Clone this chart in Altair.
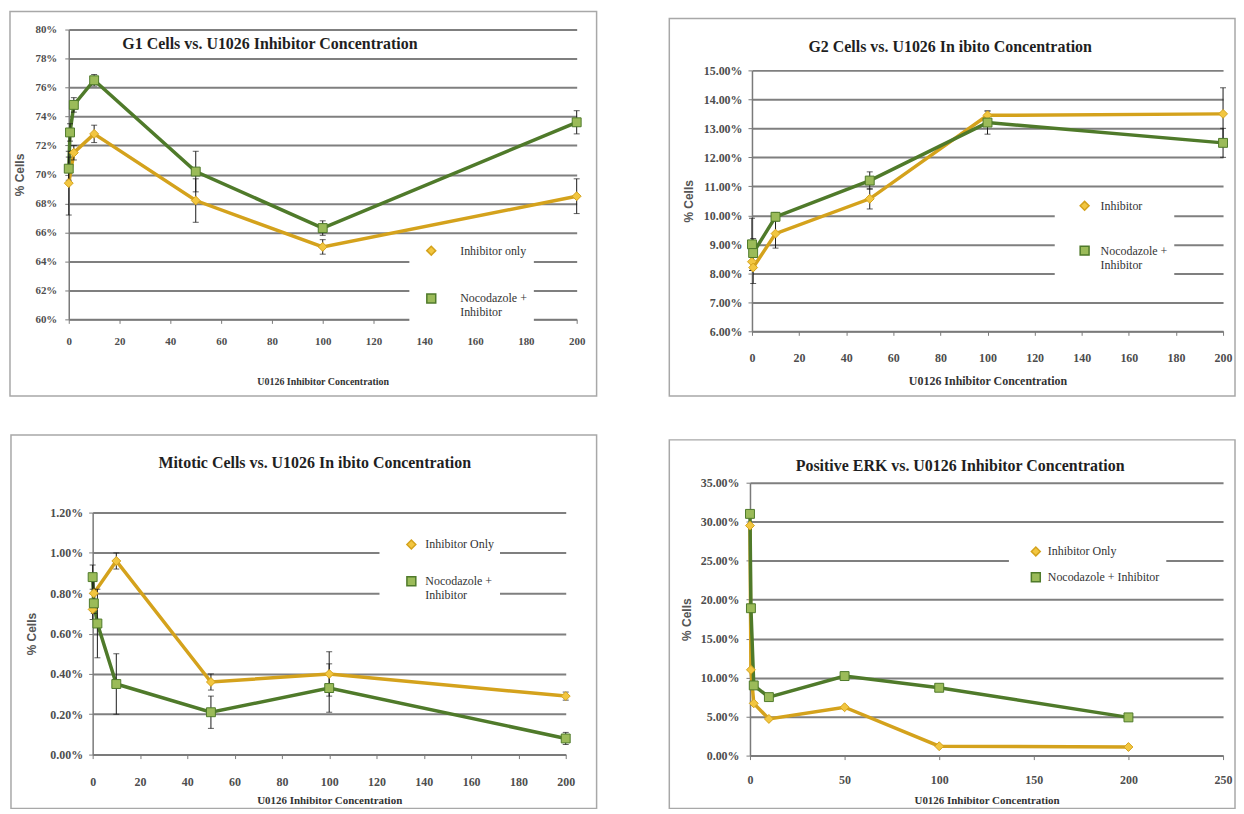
import altair as alt
import pandas as pd

SERIF = "Liberation Serif"
SANS = "Liberation Sans"
OR_LINE = "#D4A21C"
OR_FILL = "#F2C640"
GR_LINE = "#4F7A2A"
GR_FILL = "#9BBB59"
GRID = "#7f7f7f"
FRAME = "#A8A8A8"
LABEL = "#4d4d4d"

# ---------------- G1 cells ----------------
g1_title = "G1 Cells vs. U1026 Inhibitor Concentration"
g1_names = ["Inhibitor only", "Nocodazole + Inhibitor"]
g1_inh_x = [0, 2, 10, 50, 100, 200]
g1_inh_y = [69.4, 71.5, 72.8, 68.2, 65.0, 68.5]
g1_inh_err = [2.2, 0.5, 0.6, 1.5, 0.5, 1.2]
g1_noc_x = [0, 0.5, 2, 10, 50, 100, 200]
g1_noc_y = [70.4, 72.9, 74.8, 76.5, 70.2, 66.3, 73.6]
g1_noc_err = [0.8, 0.6, 0.5, 0.4, 1.4, 0.5, 0.8]
g1_xticks = [0, 20, 40, 60, 80, 100, 120, 140, 160, 180, 200]
g1_yticks = [60, 62, 64, 66, 68, 70, 72, 74, 76, 78, 80]

# ---------------- G2 cells ----------------
g2_title = "G2 Cells vs. U1026 In  ibito  Concentration"
g2_names = ["Inhibitor", "Nocodazole + Inhibitor"]
g2_inh_x = [0, 0.5, 10, 50, 100, 200]
g2_inh_y = [8.4, 8.2, 9.37, 10.57, 13.45, 13.5]
g2_inh_err = [0.3, 0.55, 0.5, 0.35, 0.15, 0.9]
g2_noc_x = [0, 0.5, 10, 50, 100, 200]
g2_noc_y = [9.0, 8.7, 9.95, 11.2, 13.2, 12.5]
g2_noc_err = [0.9, 0.5, 0.15, 0.3, 0.4, 0.5]
g2_xticks = [0, 20, 40, 60, 80, 100, 120, 140, 160, 180, 200]
g2_yticks = [6, 7, 8, 9, 10, 11, 12, 13, 14, 15]

# ---------------- Mitotic cells ----------------
mit_title = "Mitotic Cells vs. U1026 In  ibito  Concentration"
mit_names = ["Inhibitor Only", "Nocodazole + Inhibitor"]
mit_inh_x = [0, 0.5, 10, 50, 100, 200]
mit_inh_y = [0.72, 0.80, 0.96, 0.36, 0.40, 0.29]
mit_inh_err = [0.05, 0.08, 0.04, 0.04, 0.11, 0.02]
mit_noc_x = [0, 0.5, 2, 10, 50, 100, 200]
mit_noc_y = [0.88, 0.75, 0.65, 0.35, 0.21, 0.33, 0.08]
mit_noc_err = [0.06, 0.05, 0.17, 0.15, 0.08, 0.12, 0.03]
mit_xticks = [0, 20, 40, 60, 80, 100, 120, 140, 160, 180, 200]
mit_yticks = [0, 0.2, 0.4, 0.6, 0.8, 1.0, 1.2]

# ---------------- Positive ERK ----------------
erk_title = "Positive ERK vs. U0126 Inhibitor Concentration"
erk_names = ["Inhibitor Only", "Nocodazole + Inhibitor"]
erk_inh_x = [0, 0.5, 2, 10, 50, 100, 200]
erk_inh_y = [29.5, 11.0, 6.7, 4.7, 6.2, 1.2, 1.1]
erk_inh_err = [0, 0, 0, 0, 0, 0, 0]
erk_noc_x = [0, 0.5, 2, 10, 50, 100, 200]
erk_noc_y = [31.0, 18.9, 9.0, 7.5, 10.2, 8.7, 4.9]
erk_noc_err = [0, 0, 0, 0, 0, 0, 0]
erk_xticks = [0, 50, 100, 150, 200, 250]
erk_yticks = [0, 5, 10, 15, 20, 25, 30, 35]

X_TITLE = "U0126 Inhibitor Concentration"
Y_TITLE = "% Cells"

TWO_LINE = "datum.label == 'Nocodazole + Inhibitor' ? ['Nocodazole +', 'Inhibitor'] : datum.label"

PANELS = {
    "g1": dict(title=g1_title, tx=202, ty=15, names=g1_names,
               series=[(g1_inh_x, g1_inh_y, g1_inh_err), (g1_noc_x, g1_noc_y, g1_noc_err)],
               xdom=[0, 200], xticks=g1_xticks, ydom=[60, 80], yticks=g1_yticks,
               yfmt="format(datum.value, '.0f') + '%'", W=510, H=291,
               frame=(-59, 530, -18, 368), lx=342, ly=210, symoff=10, laboff=23, rowpad=32,
               twoline=True, xlp=12, xtp=30, xts=10, ylp=8, ytp=8, yls=11),
    "g2": dict(title=g2_title, tx=199, ty=-23, names=g2_names,
               series=[(g2_inh_x, g2_inh_y, g2_inh_err), (g2_noc_x, g2_noc_y, g2_noc_err)],
               xdom=[0, 200], xticks=g2_xticks, ydom=[6, 15], yticks=g2_yticks,
               yfmt="format(datum.value, '.2f') + '%'", W=473, H=262,
               frame=(-83, 485, -52, 327), lx=304, ly=124, symoff=18, laboff=10, rowpad=29,
               twoline=True, xlp=17, xtp=12, xts=12, ylp=6, ytp=8, yls=12),
    "mit": dict(title=mit_title, tx=223, ty=-50, names=mit_names,
                series=[(mit_inh_x, mit_inh_y, mit_inh_err), (mit_noc_x, mit_noc_y, mit_noc_err)],
                xdom=[0, 200], xticks=mit_xticks, ydom=[0, 1.2], yticks=mit_yticks,
                yfmt="format(datum.value, '.2f') + '%'", W=475, H=243,
                frame=(-82, 506, -78, 297), lx=288, ly=20, symoff=20, laboff=8, rowpad=21,
                twoline=True, xlp=18, xtp=7, xts=11, ylp=6, ytp=11, yls=12),
    "erk": dict(title=erk_title, tx=211, ty=-17, names=erk_names,
                series=[(erk_inh_x, erk_inh_y, erk_inh_err), (erk_noc_x, erk_noc_y, erk_noc_err)],
                xdom=[0, 250], xticks=erk_xticks, ydom=[0, 35], yticks=erk_yticks,
                yfmt="format(datum.value, '.2f') + '%'", W=475, H=274,
                frame=(-81, 487, -43, 327), lx=260, ly=57, symoff=15, laboff=6, rowpad=10,
                twoline=False, xlp=15, xtp=9, xts=11, ylp=7, ytp=7, yls=12),
}


def panel(p):
    rows = []
    for k, (xs_, ys_, es_) in enumerate(p["series"]):
        for i, (x, y, e) in enumerate(zip(xs_, ys_, es_)):
            rows.append(dict(s=p["names"][k], x=x, y=y, lo=y - e, hi=y + e, err=e, i=i))
    df = pd.DataFrame(rows)
    edf = df[df.err > 0]

    xsc = alt.Scale(domain=p["xdom"], nice=False, zero=False)
    ysc = alt.Scale(domain=p["ydom"], nice=False, zero=False)
    xax = alt.Axis(values=p["xticks"], title=X_TITLE, grid=False,
                   labelFont=SERIF, labelFontWeight="bold", labelFontSize=p["yls"], labelColor=LABEL,
                   labelPadding=p["xlp"], titleFont=SERIF, titleFontWeight="bold",
                   titleFontSize=p["xts"], titleColor="#333333", titlePadding=p["xtp"],
                   domainColor="#7a7a7a", domainWidth=1.5, tickColor="#7a7a7a", tickSize=4,
                   labelFlush=False, labelOverlap=False)
    yax = alt.Axis(values=p["yticks"], labelExpr=p["yfmt"], title=Y_TITLE, grid=True,
                   gridColor=GRID, gridWidth=2, labelFont=SERIF, labelFontWeight="bold",
                   labelFontSize=p["yls"], labelColor=LABEL, labelPadding=p["ylp"],
                   titleFont=SANS, titleFontWeight="bold", titleFontSize=12, titleColor="#555555",
                   titlePadding=p["ytp"], domainColor="#7a7a7a", domainWidth=1.5,
                   tickColor="#7a7a7a", tickSize=4, labelFlush=False, labelOverlap=False)
    legkw = dict(title=None, orient="none", legendX=p["lx"], legendY=p["ly"], fillColor="white",
                 padding=6, labelFont=SERIF, labelFontSize=12, labelColor="#333333",
                 symbolSize=80, symbolOffset=p["symoff"], labelOffset=p["laboff"],
                 rowPadding=p["rowpad"], zindex=1)
    if p["twoline"]:
        legkw["labelExpr"] = TWO_LINE
    leg = alt.Legend(**legkw)

    X = alt.X("x:Q", scale=xsc, axis=xax)
    Y = alt.Y("y:Q", scale=ysc, axis=yax)
    dom = p["names"]
    stroke = alt.Stroke("s:N", scale=alt.Scale(domain=dom, range=[OR_LINE, GR_LINE]), legend=leg)
    fill = alt.Fill("s:N", scale=alt.Scale(domain=dom, range=[OR_FILL, GR_FILL]), legend=leg)
    shape = alt.Shape("s:N", scale=alt.Scale(domain=dom, range=["diamond", "square"]), legend=leg)

    fx1, fx2, fy1, fy2 = p["frame"]
    one = pd.DataFrame({"t": [p["title"]]})
    frame = alt.Chart(one).mark_rect(fillOpacity=0, stroke=FRAME, strokeWidth=1.5).encode(
        x=alt.value(fx1), x2=alt.value(fx2), y=alt.value(fy1), y2=alt.value(fy2))
    line = alt.Chart(df).mark_line(strokeWidth=3.5).encode(x=X, y=Y, stroke=stroke, order="i:Q")
    pts = alt.Chart(df).mark_point(filled=True, size=80, strokeWidth=1, opacity=1).encode(
        x=X, y=Y, stroke=stroke, fill=fill, shape=shape)
    title = alt.Chart(one).mark_text(font=SERIF, fontWeight="bold", fontSize=16,
                                     color="#1f1f1f", align="center", baseline="middle").encode(
        x=alt.value(p["tx"]), y=alt.value(p["ty"]), text="t:N")
    layers = [frame, line]
    if len(edf):
        rule = alt.Chart(edf).mark_rule(color="#1a1a1a", strokeWidth=1).encode(
            x=X, y=alt.Y("lo:Q", scale=ysc, axis=yax), y2="hi:Q")
        capl = alt.Chart(edf).mark_tick(color="#1a1a1a", orient="horizontal", size=6,
                                        thickness=1).encode(x=X, y=alt.Y("lo:Q", scale=ysc, axis=yax))
        caph = alt.Chart(edf).mark_tick(color="#1a1a1a", orient="horizontal", size=6,
                                        thickness=1).encode(x=X, y=alt.Y("hi:Q", scale=ysc, axis=yax))
        layers += [rule, capl, caph]
    layers += [pts, title]
    return alt.layer(*layers).properties(width=p["W"], height=p["H"])


def spacer(w, h):
    return alt.Chart(pd.DataFrame({"a": [0]})).mark_rect(opacity=0).encode(
        x=alt.value(0), x2=alt.value(w), y=alt.value(0), y2=alt.value(h)
    ).properties(width=w, height=h)


def ind(c):
    return c.resolve_scale(stroke="independent", fill="independent", shape="independent").resolve_legend(
        stroke="independent", fill="independent", shape="independent")


def wrap(ch, l, t):
    return ind(alt.vconcat(spacer(1, t), ind(alt.hconcat(spacer(l, 1), ch, spacing=0)), spacing=0))


w1 = wrap(panel(PANELS["g1"]), 1, 1)
w2 = wrap(panel(PANELS["g2"]), 1, 8)
w3 = wrap(panel(PANELS["mit"]), 2, 1)
w4 = wrap(panel(PANELS["erk"]), 1, 6)

row1 = ind(alt.hconcat(w1, w2, spacing=70))
row2 = ind(alt.hconcat(w3, w4, spacing=70))
chart = ind(alt.vconcat(row1, row2, spacing=36)).properties(padding=0).configure_view(strokeWidth=0)

chart.save("out.html", embed_options={"renderer": "svg", "actions": False})
